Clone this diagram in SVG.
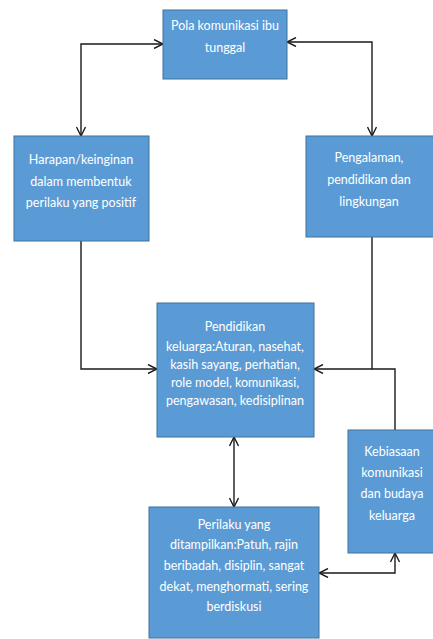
<svg xmlns="http://www.w3.org/2000/svg" width="433" height="639" viewBox="0 0 433 639">
<defs>
<style>
.box{fill:#5B9BD5;stroke:#41719C;stroke-width:1}
.t{font-family:Lato,"Open Sans","Liberation Sans",sans-serif;font-size:12.5px;fill:#ffffff;text-anchor:middle}
.c{fill:none;stroke:#1a1a1a;stroke-width:1.4}
</style>
<marker id="a" viewBox="0 0 10 10" refX="10" refY="5" markerWidth="10" markerHeight="10" markerUnits="userSpaceOnUse" orient="auto-start-reverse">
<path d="M1,0.5 L10,5 L1,9.5" fill="none" stroke="#1a1a1a" stroke-width="1.4"/>
</marker>
</defs>
<rect width="433" height="639" fill="#ffffff"/>
<g id="connectors">
<path class="c" d="M81,136 V44 H163" marker-start="url(#a)" marker-end="url(#a)"/>
<path class="c" d="M372,136 V42 H287" marker-start="url(#a)" marker-end="url(#a)"/>
<path class="c" d="M81,241 V369 H157" marker-end="url(#a)"/>
<path class="c" d="M372,237 V369 H314" marker-end="url(#a)"/>
<path class="c" d="M395,430 V369 H372"/>
<path class="c" d="M234,437 V507" marker-start="url(#a)" marker-end="url(#a)"/>
<path class="c" d="M319,573 H395 V553" marker-start="url(#a)" marker-end="url(#a)"/>
</g>
<g id="pola">
<rect class="box" x="163" y="10" width="124" height="69"/>
<text class="t" x="225" y="30">Pola komunikasi ibu</text>
<text class="t" x="225" y="52">tunggal</text>
</g>
<g id="harapan">
<rect class="box" x="14" y="136" width="135" height="105"/>
<text class="t" x="81" y="164">Harapan/keinginan</text>
<text class="t" x="81" y="186">dalam membentuk</text>
<text class="t" x="81" y="207">perilaku yang positif</text>
</g>
<g id="pengalaman">
<rect class="box" x="306" y="136" width="128" height="101"/>
<text class="t" x="369" y="162">Pengalaman,</text>
<text class="t" x="369" y="184">pendidikan dan</text>
<text class="t" x="369" y="206">lingkungan</text>
</g>
<g id="pendidikan">
<rect class="box" x="157" y="303" width="157" height="134"/>
<text class="t" x="235" y="331">Pendidikan</text>
<text class="t" x="235" y="351">keluarga:Aturan, nasehat,</text>
<text class="t" x="235" y="369">kasih sayang, perhatian,</text>
<text class="t" x="235" y="387">role model, komunikasi,</text>
<text class="t" x="235" y="405">pengawasan, kedisiplinan</text>
</g>
<g id="kebiasaan">
<rect class="box" x="348" y="430" width="86" height="123"/>
<text class="t" x="392" y="456">Kebiasaan</text>
<text class="t" x="392" y="477">komunikasi</text>
<text class="t" x="392" y="498">dan budaya</text>
<text class="t" x="392" y="520">keluarga</text>
</g>
<g id="perilaku">
<rect class="box" x="149" y="507" width="170" height="131"/>
<text class="t" x="234" y="529">Perilaku yang</text>
<text class="t" x="234" y="549">ditampilkan:Patuh, rajin</text>
<text class="t" x="234" y="570">beribadah, disiplin, sangat</text>
<text class="t" x="234" y="591">dekat, menghormati, sering</text>
<text class="t" x="234" y="611">berdiskusi</text>
</g>
</svg>
